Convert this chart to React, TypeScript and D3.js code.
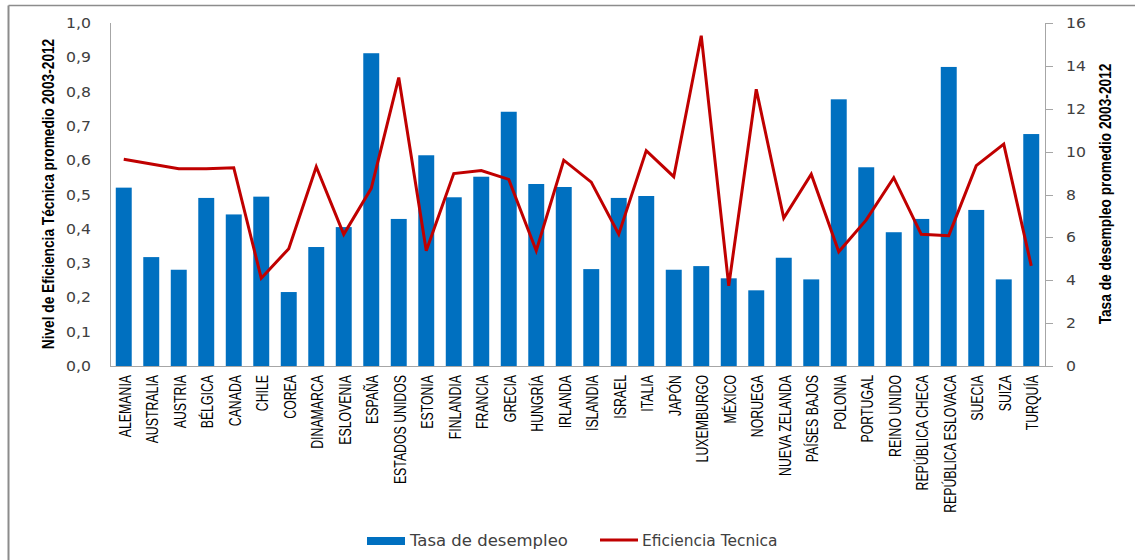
import React from "react";
import * as d3 from "d3";

const countries = [
  "ALEMANIA", "AUSTRALIA", "AUSTRIA", "BÉLGICA", "CANADA", "CHILE", "COREA", "DINAMARCA",
  "ESLOVENIA", "ESPAÑA", "ESTADOS UNIDOS", "ESTONIA", "FINLANDIA", "FRANCIA", "GRECIA",
  "HUNGRÍA", "IRLANDA", "ISLANDIA", "ISRAEL", "ITALIA", "JAPÓN", "LUXEMBURGO", "MÉXICO",
  "NORUEGA", "NUEVA ZELANDA", "PAÍSES BAJOS", "POLONIA", "PORTUGAL", "REINO UNIDO",
  "REPÚBLICA CHECA", "REPÚBLICA ESLOVACA", "SUECIA", "SUIZA", "TURQUÍA",
];

// Tasa de desempleo (right axis, 0-16)
const desempleo = [
  8.32, 5.08, 4.49, 7.84, 7.07, 7.9, 3.45, 5.55, 6.48, 14.59, 6.86, 9.83, 7.87, 8.83, 11.86,
  8.49, 8.35, 4.52, 7.84, 7.93, 4.49, 4.66, 4.09, 3.53, 5.05, 4.04, 12.44, 9.27, 6.24, 6.86,
  13.95, 7.28, 4.04, 10.82,
];

// Eficiencia Tecnica (left axis, 0-1)
const eficiencia = [
  0.603, 0.589, 0.575, 0.575, 0.578, 0.256, 0.342, 0.581, 0.384, 0.518, 0.841, 0.336, 0.561,
  0.57, 0.544, 0.336, 0.6, 0.536, 0.384, 0.628, 0.552, 0.963, 0.234, 0.807, 0.431, 0.559,
  0.333, 0.426, 0.549, 0.384, 0.38, 0.584, 0.647, 0.292,
];

const leftTicks = [0, 0.1, 0.2, 0.3, 0.4, 0.5, 0.6, 0.7, 0.8, 0.9, 1.0];
const rightTicks = [0, 2, 4, 6, 8, 10, 12, 14, 16];

const W = 1135;
const H = 560;
const plotLeft = 110;
const plotRight = 1045;
const plotTop = 23;
const plotBottom = 366;

const BLUE = "#0070C0";
const RED = "#C00000";
const AXIS = "#A6A6A6";
const TXT = "#404040";
const NUM_FONT = "'DejaVu Sans', Verdana, sans-serif";
const SANS = "'Liberation Sans', Arial, sans-serif";

export default function App() {
  const x = d3
    .scaleBand<string>()
    .domain(countries)
    .range([plotLeft, plotRight])
    .paddingInner(0.42)
    .paddingOuter(0.21);
  const yL = d3.scaleLinear().domain([0, 1]).range([plotBottom, plotTop]);
  const yR = d3.scaleLinear().domain([0, 16]).range([plotBottom, plotTop]);
  const cx = (c: string) => (x(c) as number) + x.bandwidth() / 2;
  const fmt = (v: number) => d3.format(".1f")(v).replace(".", ",");

  const line = d3
    .line<number>()
    .x((_, i) => cx(countries[i]))
    .y((d) => yL(d));

  return (
    <svg
      width={W}
      height={H}
      style={{ position: "absolute", left: 0, top: 0, background: "#fff" }}
    >
      <rect x={0} y={0} width={W} height={H} fill="#fff" />
      {/* outer frame (top & left visible) */}
      <line x1={8.5} y1={5.5} x2={W} y2={5.5} stroke="#8C8C8C" strokeWidth={1.5} />
      <line x1={8.5} y1={5.5} x2={8.5} y2={H} stroke="#8C8C8C" strokeWidth={2} />

      {/* bars */}
      {countries.map((c, i) => (
        <rect
          key={c}
          x={x(c)}
          y={yR(desempleo[i])}
          width={x.bandwidth()}
          height={plotBottom - yR(desempleo[i])}
          fill={BLUE}
        />
      ))}

      {/* axes */}
      <line x1={plotLeft + 0.5} y1={plotTop} x2={plotLeft + 0.5} y2={plotBottom} stroke={AXIS} />
      <line x1={plotLeft} y1={plotBottom + 0.5} x2={plotRight + 8} y2={plotBottom + 0.5} stroke={AXIS} />
      <line x1={plotRight + 0.5} y1={plotTop} x2={plotRight + 0.5} y2={plotBottom} stroke={AXIS} />
      {rightTicks.map((t) => (
        <g key={"r" + t}>
          <line
            x1={plotRight}
            x2={plotRight + 8}
            y1={Math.round(yR(t)) + 0.5}
            y2={Math.round(yR(t)) + 0.5}
            stroke={AXIS}
          />
          <text
            transform={`translate(${plotRight + 21},${yR(t)}) scale(1.12,1)`}
            dy="0.36em"
            fontFamily={NUM_FONT}
            fontSize={14}
            fill={TXT}
          >
            {t}
          </text>
        </g>
      ))}
      {leftTicks.map((t) => (
        <text
          key={"l" + t}
          transform={`translate(91,${yL(t)}) scale(1.12,1)`}
          dy="0.36em"
          textAnchor="end"
          fontFamily={NUM_FONT}
          fontSize={14}
          fill={TXT}
        >
          {fmt(t)}
        </text>
      ))}

      {/* line */}
      <path
        d={line(eficiencia) || ""}
        fill="none"
        stroke={RED}
        strokeWidth={3}
        strokeLinejoin="miter"
      />

      {/* category labels */}
      {countries.map((c) => (
        <text
          key={"t" + c}
          transform={`translate(${cx(c) + 1},375) rotate(-90) scale(0.82,1.12)`}
          dy="0.36em"
          textAnchor="end"
          fontFamily={SANS}
          fontSize={15}
          fill="#000"
        >
          {c}
        </text>
      ))}

      {/* axis titles */}
      <text
        transform={`translate(48.5,194) rotate(-90) scale(0.83,1)`}
        dy="0.36em"
        textAnchor="middle"
        fontFamily={SANS}
        fontWeight="bold"
        fontSize={16.5}
        fill="#000"
      >
        Nivel de Eficiencia Técnica promedio 2003-2012
      </text>
      <text
        transform={`translate(1105,194) rotate(-90) scale(0.83,1)`}
        dy="0.36em"
        textAnchor="middle"
        fontFamily={SANS}
        fontWeight="bold"
        fontSize={16.5}
        fill="#000"
      >
        Tasa de desempleo promedio 2003-2012
      </text>

      {/* legend */}
      <rect x={367} y={537} width={38} height={8} fill={BLUE} />
      <text
        transform="translate(410,541) scale(1.1,1)"
        dy="0.36em"
        fontFamily={NUM_FONT}
        fontSize={15}
        fill={TXT}
      >
        Tasa de desempleo
      </text>
      <line x1={600} x2={638} y1={540} y2={540} stroke={RED} strokeWidth={3} />
      <text
        transform="translate(642,541) scale(1.03,1)"
        dy="0.36em"
        fontFamily={NUM_FONT}
        fontSize={15}
        fill={TXT}
      >
        Eficiencia Tecnica
      </text>
    </svg>
  );
}
